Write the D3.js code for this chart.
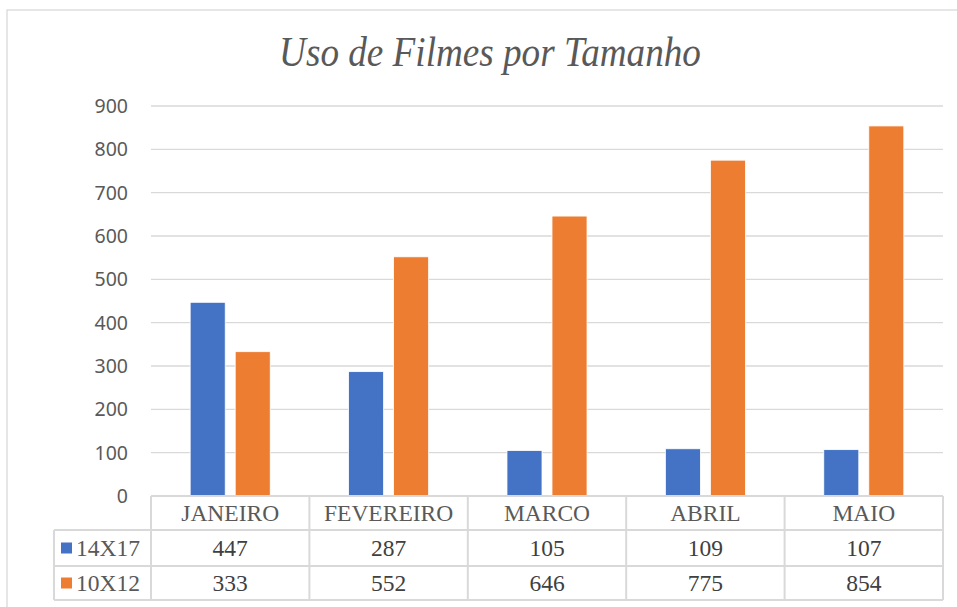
<!DOCTYPE html>
<html>
<head>
<meta charset="utf-8">
<script src="https://cdn.jsdelivr.net/npm/d3@7"></script>
<style>
  body { margin: 0; background: #fff; }
  svg { display: block; }
</style>
</head>
<body>
<svg id="chart" width="957" height="607"></svg>
<script>
// data
const months = ["JANEIRO", "FEVEREIRO", "MARCO", "ABRIL", "MAIO"];
const seriesNames = ["14X17", "10X12"];
const values14x17 = [447, 287, 105, 109, 107];
const values10x12 = [333, 552, 646, 775, 854];
const yTicks = [0, 100, 200, 300, 400, 500, 600, 700, 800, 900];
const colors = ["#4472C4", "#ED7D31"];

const svg = d3.select("#chart");
const plot = { left: 151, right: 943, top: 106, bottom: 496 };
const rowH = [34, 36, 34];
const legendLeft = 54;
const serif = "'Liberation Serif', 'Times New Roman', serif";

// outer frame (only top/left visible)
svg.append("rect")
    .attr("x", 7).attr("y", 10)
    .attr("width", 1000).attr("height", 700)
    .attr("fill", "none")
    .attr("stroke", "#d9d9d9")
    .attr("stroke-width", 1.3);

// title, slightly condensed
svg.append("text")
    .attr("transform", "translate(490,66) scale(0.885,1)")
    .attr("text-anchor", "middle")
    .attr("font-family", serif)
    .attr("font-style", "italic")
    .attr("font-size", 42)
    .attr("fill", "#595959")
    .text("Uso de Filmes por Tamanho");

const x = d3.scaleBand().domain(months).range([plot.left, plot.right]);
const y = d3.scaleLinear().domain([0, 900]).range([plot.bottom, plot.top]);
const xs = d3.scaleBand().domain(seriesNames).range([0, x.bandwidth()]).paddingInner(0.222).paddingOuter(0.87);

// grid
svg.append("g").selectAll("line")
    .data(yTicks.filter(d => d > 0))
    .enter().append("line")
    .attr("x1", plot.left).attr("x2", plot.right)
    .attr("y1", d => y(d)).attr("y2", d => y(d))
    .attr("stroke", "#d9d9d9").attr("stroke-width", 1.3);

// y labels
svg.append("g").selectAll("text")
    .data(yTicks)
    .enter().append("text")
    .attr("x", 128)
    .attr("y", d => y(d) + 7)
    .attr("text-anchor", "end")
    .attr("font-family", "'Noto Sans', sans-serif")
    .attr("font-size", 19.5)
    .attr("fill", "#595959")
    .text(d => d);

// bars
const seriesData = [values14x17, values10x12];
seriesData.forEach((vals, si) => {
    svg.append("g").selectAll("rect")
        .data(vals)
        .enter().append("rect")
        .attr("x", (d, i) => x(months[i]) + xs(seriesNames[si]))
        .attr("width", xs.bandwidth())
        .attr("y", d => y(d))
        .attr("height", d => y(0) - y(d))
        .attr("fill", colors[si])
        .attr("stroke", "#fff")
        .attr("stroke-width", 0.8);
});

// data table
const tbl = svg.append("g");
const gridCol = "#d9d9d9";
const y0 = plot.bottom, y1 = y0 + rowH[0], y2 = y1 + rowH[1], y3 = y2 + rowH[2];
const hl = (xa, xb, yy) => tbl.append("line").attr("x1", xa).attr("x2", xb).attr("y1", yy).attr("y2", yy)
    .attr("stroke", gridCol).attr("stroke-width", 2);
const vl = (xx, ya, yb) => tbl.append("line").attr("x1", xx).attr("x2", xx).attr("y1", ya).attr("y2", yb)
    .attr("stroke", gridCol).attr("stroke-width", 2);
hl(plot.left, plot.right, y0);
hl(legendLeft, plot.right, y1);
hl(legendLeft, plot.right, y2);
hl(legendLeft, plot.right, y3);
vl(legendLeft, y1, y3);
months.forEach(m => vl(x(m), y0, y3));
vl(plot.right, y0, y3);

tbl.selectAll(".hdr").data(months).enter().append("text")
    .attr("x", d => x(d) + x.bandwidth() / 2)
    .attr("y", y0 + 25)
    .attr("text-anchor", "middle")
    .attr("font-family", serif).attr("font-size", 23.5)
    .attr("fill", "#595959")
    .text(d => d);

seriesData.forEach((vals, si) => {
    const rowTop = si === 0 ? y1 : y2;
    const rh = si === 0 ? rowH[1] : rowH[2];
    tbl.append("rect")
        .attr("x", 61).attr("y", rowTop + rh / 2 - 5.5)
        .attr("width", 11).attr("height", 11)
        .attr("fill", colors[si]);
    tbl.append("text")
        .attr("x", 76).attr("y", rowTop + rh / 2 + 8)
        .attr("font-family", serif).attr("font-size", 23.5)
        .attr("fill", "#595959")
        .text(seriesNames[si]);
    tbl.append("g").selectAll("text").data(vals).enter().append("text")
        .attr("x", (d, i) => x(months[i]) + x.bandwidth() / 2)
        .attr("y", rowTop + rh / 2 + 8)
        .attr("text-anchor", "middle")
        .attr("font-family", serif).attr("font-size", 23.5)
        .attr("fill", "#404040")
        .text(d => d);
});
</script>
</body>
</html>
